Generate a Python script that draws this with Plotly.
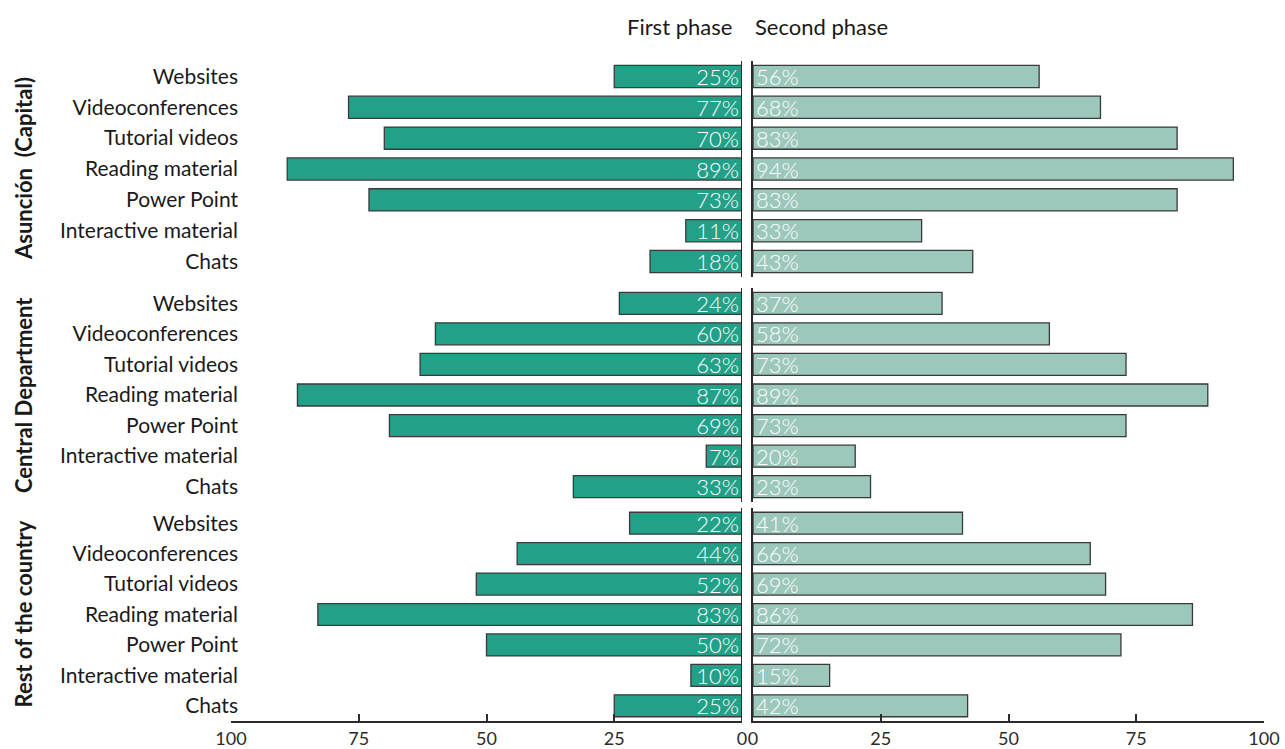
import plotly.graph_objects as go

# Resource categories, listed top to bottom within each region
categories = ["Websites", "Videoconferences", "Tutorial videos", "Reading material",
              "Power Point", "Interactive material", "Chats"]

regions = ["Asunción  (Capital)", "Central Department", "Rest of the country"]

# Share of teachers using each resource (%)
first_asuncion = [25, 77, 70, 89, 73, 11, 18]
second_asuncion = [56, 68, 83, 94, 83, 33, 43]
first_central = [24, 60, 63, 87, 69, 7, 33]
second_central = [37, 58, 73, 89, 73, 20, 23]
first_rest = [22, 44, 52, 83, 50, 10, 25]
second_rest = [41, 66, 69, 86, 72, 15, 42]

phase_labels = ["First phase", "Second phase"]
x_ticks = [0, 25, 50, 75, 100]

W, H = 1285, 749
FONT = "Lato"
DARK = "#2b2b2b"
FIRST_COLOR = "#22a088"
SECOND_COLOR = "#9cc7bb"


def px_x(p):
    return p / W


def px_y(p):
    return 1 - p / H


left_dom = [px_x(231), px_x(742)]
right_dom = [px_x(753), px_x(1264)]
row_px = [(61, 277), (288, 502), (508, 721)]
row_dom = [[px_y(b), px_y(t)] for t, b in row_px]

series = [(first_asuncion, second_asuncion),
          (first_central, second_central),
          (first_rest, second_rest)]

fig = go.Figure()
layout = {}
shapes = []
annotations = []

for r, (first_vals, second_vals) in enumerate(series):
    li = 2 * r + 1
    ri = 2 * r + 2
    lx = "x" if li == 1 else f"x{li}"
    ly = "y" if li == 1 else f"y{li}"
    rx = f"x{ri}"
    ry = f"y{ri}"
    for vals, xa, ya, color in [(first_vals, lx, ly, FIRST_COLOR),
                                (second_vals, rx, ry, SECOND_COLOR)]:
        fig.add_trace(go.Bar(
            x=vals, y=categories, orientation="h",
            xaxis=xa, yaxis=ya,
            marker=dict(color=color, line=dict(color="#3a3a3a", width=1.3)),
            texttemplate="%{x}%", textposition="inside",
            insidetextanchor="start", constraintext="none",
            textfont=dict(family=FONT, size=22, color="white", weight=300),
            cliponaxis=False, showlegend=False, hoverinfo="skip",
        ))

    bottom = (r == 2)
    xcommon = dict(showgrid=False, zeroline=False, fixedrange=True, automargin=False,
                   tickvals=x_ticks, ticktext=[str(v) for v in x_ticks],
                   tickfont=dict(family=FONT, size=18, color=DARK))
    if bottom:
        xcommon.update(showline=True, linecolor=DARK, linewidth=2,
                       ticks="inside", ticklen=7, tickwidth=2, tickcolor=DARK,
                       showticklabels=True)
    else:
        xcommon.update(showline=False, ticks="", showticklabels=False)

    layout["xaxis" if li == 1 else f"xaxis{li}"] = dict(
        domain=left_dom, range=[100, 0], anchor=ly, **xcommon)
    layout[f"xaxis{ri}"] = dict(
        domain=right_dom, range=[0, 100], anchor=ry, **xcommon)

    layout["yaxis" if li == 1 else f"yaxis{li}"] = dict(
        domain=row_dom[r], anchor="free", position=px_x(238),
        autorange="reversed", showgrid=False, showline=False, ticks="",
        tickfont=dict(family=FONT, size=21, color="#1a1a1a"),
        fixedrange=True, automargin=False)
    layout[f"yaxis{ri}"] = dict(
        domain=row_dom[r], anchor=rx, side="left",
        autorange="reversed", showgrid=False, showline=True,
        linecolor=DARK, linewidth=2, ticks="", showticklabels=False,
        fixedrange=True, automargin=False)

    # central spine of the first-phase panel at its zero value
    shapes.append(dict(type="line", xref=lx, yref=f"{ly} domain",
                       x0=0, x1=0, y0=0, y1=1,
                       line=dict(color=DARK, width=2)))

    # rotated region label
    annotations.append(dict(
        text=f"<b>{regions[r]}</b>", textangle=-90,
        x=px_x(23), y=(row_dom[r][0] + row_dom[r][1]) / 2,
        xref="paper", yref="paper", xanchor="center", yanchor="middle",
        showarrow=False, font=dict(family=FONT, size=22, color="#1a1a1a")))

annotations.append(dict(text=phase_labels[0], x=left_dom[1] - px_x(8), y=px_y(27),
                        xref="paper", yref="paper", xanchor="right", yanchor="middle",
                        showarrow=False, font=dict(family=FONT, size=22, color="#1a1a1a")))
annotations.append(dict(text=phase_labels[1], x=right_dom[0], y=px_y(27),
                        xref="paper", yref="paper", xanchor="left", yanchor="middle",
                        showarrow=False, font=dict(family=FONT, size=22, color="#1a1a1a")))

fig.update_layout(
    width=W, height=H,
    margin=dict(l=0, r=0, t=0, b=0, autoexpand=False),
    paper_bgcolor="white", plot_bgcolor="white",
    bargap=0.28, shapes=shapes, annotations=annotations,
    font=dict(family=FONT, color="#1a1a1a"),
    **layout,
)

fig.write_html("out.html", config={"displayModeBar": False})
